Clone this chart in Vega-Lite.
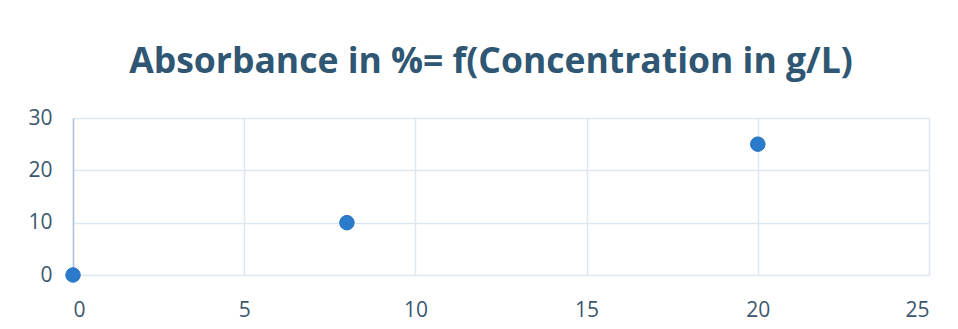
{
  "$schema": "https://vega.github.io/schema/vega-lite/v6.json",
  "width": 856,
  "height": 157,
  "autosize": {"type": "none"},
  "padding": {"left": 73, "top": 118, "right": 29, "bottom": 54},
  "background": "white",
  "title": {
    "text": "Absorbance in %= f(Concentration in g/L)",
    "font": "Open Sans",
    "fontSize": 35.5,
    "fontWeight": "bold",
    "color": "#2F5673",
    "anchor": "middle",
    "dx": -10,
    "offset": 27
  },
  "data": {
    "values": [
      {"concentration": 0, "absorbance": 0},
      {"concentration": 8, "absorbance": 10},
      {"concentration": 20, "absorbance": 25}
    ]
  },
  "mark": {"type": "point", "filled": true, "shape": "circle", "size": 210, "color": "#2B7BCC", "opacity": 1, "stroke": "#2470BD", "strokeWidth": 1},
  "encoding": {
    "x": {
      "field": "concentration",
      "type": "quantitative",
      "scale": {"domain": [0, 25], "nice": false, "zero": true},
      "axis": {
        "title": null,
        "values": [0, 5, 10, 15, 20, 25],
        "domain": false,
        "ticks": false,
        "grid": true,
        "gridColor": "#DDE7F0",
        "gridWidth": 1.5,
        "labelFont": "Open Sans",
        "labelFontSize": 21,
        "labelColor": "#3B5770",
        "labelPadding": 24
      }
    },
    "y": {
      "field": "absorbance",
      "type": "quantitative",
      "scale": {"domain": [0, 30], "nice": false},
      "axis": {
        "title": null,
        "values": [0, 10, 20, 30],
        "domain": true,
        "domainColor": "#A9C3D8",
        "domainWidth": 1.5,
        "ticks": false,
        "grid": true,
        "gridColor": "#DDE7F0",
        "gridWidth": 1.5,
        "labelFont": "Open Sans",
        "labelFontSize": 21,
        "labelColor": "#3B5770",
        "labelPadding": 21
      }
    }
  },
  "config": {"view": {"stroke": null}}
}
